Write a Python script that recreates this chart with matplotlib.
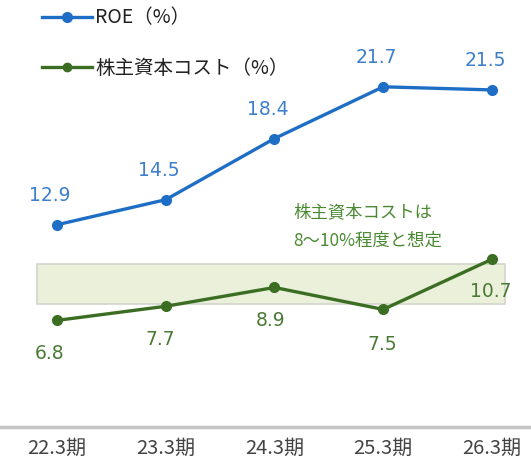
import matplotlib.pyplot as plt

plt.rcParams['font.family'] = ['Noto Sans CJK JP', 'DejaVu Sans']

periods = ['22.3期', '23.3期', '24.3期', '25.3期', '26.3期']
roe = [12.9, 14.5, 18.4, 21.7, 21.5]
cost = [6.8, 7.7, 8.9, 7.5, 10.7]
band_low, band_high = 7.85, 10.4

blue = '#1f6ec6'
green = '#3b6e23'

fig = plt.figure(figsize=(5.31, 4.64), dpi=100)
ax = fig.add_axes([0, 36 / 464, 1, 428 / 464])
x = list(range(len(periods)))

ax.fill_between([-0.18, 4.12], band_low, band_high, color='#eaf0d9', ec='#d2d6cc', lw=1.2, zorder=1)

ax.plot(x, roe, color=blue, lw=2.4, marker='o', ms=7, zorder=3)
ax.plot(x, cost, color=green, lw=2.4, marker='o', ms=7, zorder=3)

for i, v in enumerate(roe):
    ax.annotate(f'{v:.1f}', (i, v), xytext=(-5, 15), textcoords='offset points',
                ha='center', va='bottom', color='#3d7fcc', fontsize=13.5, family='DejaVu Sans')
cost_off = [(-5, -16), (-4, -16), (-3, -16), (-1, -18), (-1, -16)]
for i, v in enumerate(cost):
    dx, dy = cost_off[i]
    ax.annotate(f'{v:.1f}', (i, v), xytext=(dx, dy), textcoords='offset points',
                ha='center', va='top', color='#4b7a36', fontsize=13.5, family='DejaVu Sans')

ax.text(2.17, 12.85, '株主資本コストは\n8～10%程度と想定', color='#4b8a33', fontsize=12.5,
        ha='left', va='center', linespacing=1.75)

ax.set_xlim(-0.524, 4.359)
ax.set_ylim(0, 27.3)
for s in ['top', 'right', 'left']:
    ax.spines[s].set_visible(False)
ax.spines['bottom'].set_color('#c4c4c4')
ax.spines['bottom'].set_linewidth(2.5)
ax.set_yticks([])
ax.set_xticks(x)
ax.set_xticklabels(periods, fontsize=14.5, color='#444444')
ax.tick_params(axis='x', length=0, pad=7)

# legend drawn by hand in figure coords
fig.lines.append(plt.Line2D([42 / 531, 92 / 531], [1 - 18 / 464] * 2, color=blue, lw=2.4,
                            transform=fig.transFigure))
fig.lines.append(plt.Line2D([67 / 531], [1 - 18 / 464], color=blue, marker='o', ms=7,
                            transform=fig.transFigure))
fig.text(95 / 531, 1 - 18 / 464, 'ROE（%）', fontsize=14, va='center', color='#222222')
fig.lines.append(plt.Line2D([42 / 531, 92 / 531], [1 - 68 / 464] * 2, color=green, lw=2.4,
                            transform=fig.transFigure))
fig.lines.append(plt.Line2D([67 / 531], [1 - 68 / 464], color=green, marker='o', ms=6,
                            transform=fig.transFigure))
fig.text(95 / 531, 1 - 68 / 464, '株主資本コスト（%）', fontsize=14, va='center', color='#222222')

fig.savefig('out.png', dpi=100)
